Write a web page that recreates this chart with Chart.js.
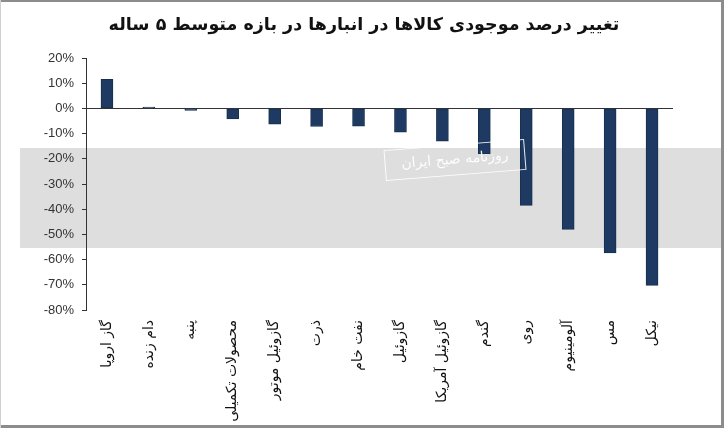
<!DOCTYPE html>
<html>
<head>
<meta charset="utf-8">
<script src="https://cdn.jsdelivr.net/npm/chart.js@4.4.0/dist/chart.umd.min.js"></script>
<style>
    html, body { margin: 0; padding: 0; background: #ffffff; }
    #wrap { width: 724px; height: 428px; position: relative; }
</style>
</head>
<body>
<div id="wrap"><canvas id="stockChart" width="724" height="428"></canvas></div>
<script>
// Datos del gráfico
const chartTitle = 'تغییر درصد موجودی کالاها در انبارها در بازه متوسط ۵ ساله';
const categories = ['گاز اروپا', 'دام زنده', 'پنبه', 'محصولات تکمیلی', 'گازوئیل موتور', 'ذرت', 'نفت خام',
    'گازوئیل', 'گازوئیل آمریکا', 'گندم', 'روی', 'آلومینیوم', 'مس', 'نیکل'];
const changeValues = [11.5, 0.5, -0.8, -4.2, -6.3, -7.2, -7.1, -9.4, -13, -18, -38.5, -48, -57.3, -70.2];
const yMin = -80;
const yMax = 20;
const yStep = 10;
const watermarkText = 'روزنامه صبح ایران';

// Fondo, marco, título y franja gris de la marca de agua
const backdropPlugin = {
    id: 'backdrop',
    beforeDraw(chart) {
        const ctx = chart.ctx;
        const w = chart.width, h = chart.height;
        ctx.save();
        ctx.fillStyle = '#ffffff';
        ctx.fillRect(0, 0, w, h);
        ctx.fillStyle = '#dedede';
        ctx.fillRect(20, 148, w - 20, 100);
        // marco
        ctx.fillStyle = '#8c8c8c';
        ctx.fillRect(0, 0, w, 2);
        ctx.fillRect(w - 3, 0, 3, h);
        ctx.fillRect(0, h - 3, w, 3);
        ctx.fillStyle = '#d0d0d0';
        ctx.fillRect(0, 0, 1, h);
        // título
        ctx.fillStyle = '#111111';
        ctx.font = 'bold 17.5px "DejaVu Sans"';
        ctx.textAlign = 'center';
        ctx.textBaseline = 'middle';
        ctx.fillText(chartTitle, 364, 25);
        ctx.restore();
    },
    afterDatasetsDraw(chart) {
        const ctx = chart.ctx;
        ctx.save();
        ctx.translate(455, 160);
        ctx.rotate(-0.08);
        ctx.strokeStyle = 'rgba(255,255,255,0.9)';
        ctx.lineWidth = 1;
        ctx.strokeRect(-70, -15, 140, 30);
        ctx.fillStyle = 'rgba(255,255,255,0.92)';
        ctx.font = '14px "DejaVu Sans"';
        ctx.textAlign = 'center';
        ctx.textBaseline = 'middle';
        ctx.fillText(watermarkText, 0, 0);
        ctx.restore();
    }
};

const ctx = document.getElementById('stockChart').getContext('2d');
const stockChart = new Chart(ctx, {
    type: 'bar',
    data: {
        labels: categories,
        datasets: [{
            data: changeValues,
            backgroundColor: '#1e3a62',
            borderColor: '#17304f',
            borderWidth: 1,
            borderSkipped: false,
            barThickness: 12
        }]
    },
    plugins: [backdropPlugin],
    options: {
        responsive: false,
        animation: false,
        devicePixelRatio: 1,
        layout: {
            padding: { top: 58, right: 51, bottom: 4, left: 0 }
        },
        plugins: {
            legend: { display: false },
            tooltip: { enabled: false },
            title: { display: false }
        },
        scales: {
            x: {
                grid: { display: false, drawTicks: false },
                border: { display: false },
                ticks: {
                    minRotation: 90,
                    maxRotation: 90,
                    padding: 10,
                    color: '#111111',
                    font: { family: '"DejaVu Sans"', size: 14 }
                },
                afterFit(scale) { scale.height = 114; }
            },
            y: {
                min: yMin,
                max: yMax,
                ticks: {
                    stepSize: yStep,
                    padding: 8,
                    color: '#333333',
                    font: { family: '"Liberation Sans", Arial', size: 13 },
                    callback: (v) => v + '%'
                },
                grid: {
                    color: (c) => (c.tick && c.tick.value === 0 ? '#333333' : 'rgba(0,0,0,0)'),
                    tickColor: '#333333',
                    tickLength: 4,
                    lineWidth: 1
                },
                border: { display: true, color: '#333333', width: 1 },
                afterFit(scale) { scale.width = 86; }
            }
        }
    }
});
</script>
</body>
</html>
